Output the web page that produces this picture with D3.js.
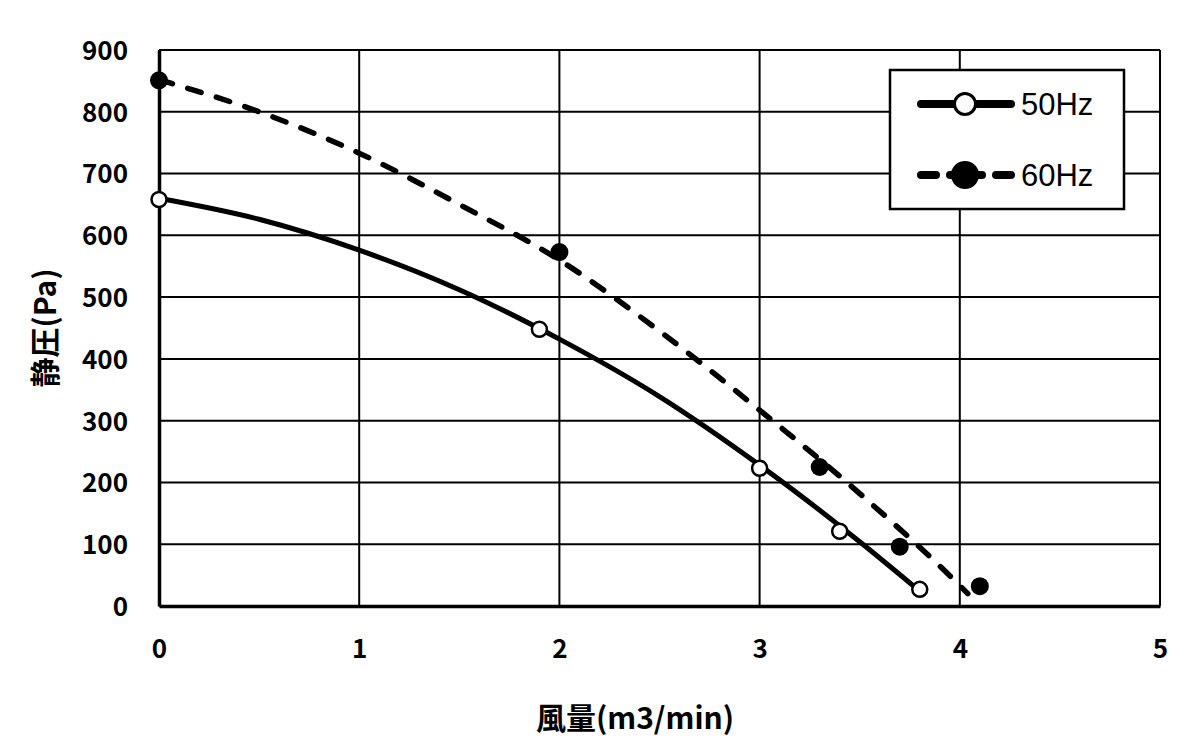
<!DOCTYPE html>
<html lang="ja">
<head>
<meta charset="UTF-8">
<title>静圧-風量</title>
<style>
  html, body { margin: 0; background: #fff; }
  svg { display: block; }
</style>
</head>
<body>
<svg id="chart" width="1200" height="750"></svg>
<script src="https://cdn.jsdelivr.net/npm/d3@7"></script>
<script>
// measured points
var flow50 = [0, 1.9, 3.0, 3.4, 3.8]
var press50 = [658, 448, 223, 121, 27]
var flow60 = [0, 2.0, 3.3, 3.7, 4.1]
var press60 = [851, 573, 225, 96, 32]

// trend curves
var trendX50 = [0, 0.5, 1.0, 1.5, 2.0, 2.5, 3.0, 3.5, 3.8]
var trendY50 = [660, 626, 576, 512, 432, 339, 228, 104, 24]
var trendX60 = [0, 0.5, 1.0, 1.5, 2.0, 2.5, 3.0, 3.5, 4.0, 4.04]
var trendY60 = [852, 800, 733, 650, 560, 445, 317, 182, 33, 20]

var xTicks = [0, 1, 2, 3, 4, 5]
var yTicks = [0, 100, 200, 300, 400, 500, 600, 700, 800, 900]
var legendNames = ['50Hz', '60Hz']

var svg = d3.select('#chart')
var font = '"Noto Sans CJK JP", "DejaVu Sans", sans-serif'

var x = d3.scaleLinear().domain([0, 5]).range([159, 1160])
var y = d3.scaleLinear().domain([0, 900]).range([606, 50])

// grid
var grid = svg.append('g').attr('stroke', '#000').attr('stroke-width', 2)
grid.selectAll('.gx').data(xTicks).join('line')
  .attr('x1', d => x(d)).attr('x2', d => x(d))
  .attr('y1', y(0)).attr('y2', y(900))
grid.selectAll('.gy').data(yTicks).join('line')
  .attr('x1', x(0)).attr('x2', x(5))
  .attr('y1', d => y(d)).attr('y2', d => y(d))

// axes
var xAxis = svg.append('g')
  .attr('transform', `translate(0,${y(0)})`)
  .call(d3.axisBottom(x).tickValues(xTicks).tickSize(0).tickPadding(34).tickFormat(d3.format('d')))
var yAxis = svg.append('g')
  .attr('transform', `translate(${x(0)},0)`)
  .call(d3.axisLeft(y).tickValues(yTicks).tickSize(0).tickPadding(31).tickFormat(d3.format('d')))
svg.selectAll('.domain').attr('stroke', '#000').attr('stroke-width', 3.5)
svg.selectAll('.tick text')
  .attr('font-family', font).attr('font-weight', 'bold')
  .attr('font-size', 26).attr('fill', '#000')
yAxis.selectAll('.tick text').attr('dy', '0.36em')

// titles
svg.append('text')
  .attr('x', 635).attr('y', 729)
  .attr('text-anchor', 'middle')
  .attr('font-family', font).attr('font-weight', 'bold').attr('font-size', 30)
  .text('風量(m3/min)')
svg.append('text')
  .attr('transform', 'translate(56,328) rotate(-90)')
  .attr('text-anchor', 'middle')
  .attr('font-family', font).attr('font-weight', 'bold').attr('font-size', 30)
  .text('静圧(Pa)')

// curves
var line = d3.line()
  .x(d => x(d[0]))
  .y(d => y(d[1]))
  .curve(d3.curveMonotoneX)

svg.append('path')
  .datum(d3.zip(trendX50, trendY50))
  .attr('fill', 'none').attr('stroke', '#000').attr('stroke-width', 5)
  .attr('d', line)
svg.append('path')
  .datum(d3.zip(trendX60, trendY60))
  .attr('fill', 'none').attr('stroke', '#000').attr('stroke-width', 5.5)
  .attr('stroke-linecap', 'round')
  .attr('stroke-dasharray', '14,16')
  .attr('d', line)

// markers
svg.append('g').selectAll('circle')
  .data(d3.zip(flow50, press50))
  .join('circle')
  .attr('cx', d => x(d[0])).attr('cy', d => y(d[1]))
  .attr('r', 7.5).attr('fill', '#fff').attr('stroke', '#000').attr('stroke-width', 2.5)
svg.append('g').selectAll('circle')
  .data(d3.zip(flow60, press60))
  .join('circle')
  .attr('cx', d => x(d[0])).attr('cy', d => y(d[1]))
  .attr('r', 9).attr('fill', '#000')

// legend
var lg = svg.append('g')
lg.append('rect')
  .attr('x', 890).attr('y', 70).attr('width', 234).attr('height', 139)
  .attr('fill', '#fff').attr('stroke', '#000').attr('stroke-width', 2.5)

var item = lg.selectAll('.item').data(legendNames).join('g')
  .attr('transform', (d, i) => `translate(0,${104 + i * 71})`)
item.append('line')
  .attr('x1', 921).attr('x2', 1011).attr('y1', 0).attr('y2', 0)
  .attr('stroke', '#000').attr('stroke-width', 8).attr('stroke-linecap', 'round')
  .attr('stroke-dasharray', (d, i) => i ? '15,14,32,14,15' : null)
item.append('circle')
  .attr('cx', 965).attr('cy', 0)
  .attr('r', (d, i) => i ? 12.5 : 10.5)
  .attr('fill', (d, i) => i ? '#000' : '#fff')
  .attr('stroke', '#000').attr('stroke-width', 3)
item.append('text')
  .attr('x', 1021).attr('y', 0).attr('dy', '0.36em')
  .attr('font-family', 'Arial, "Liberation Sans", sans-serif')
  .attr('font-size', 31)
  .text(d => d)
</script>
</body>
</html>
